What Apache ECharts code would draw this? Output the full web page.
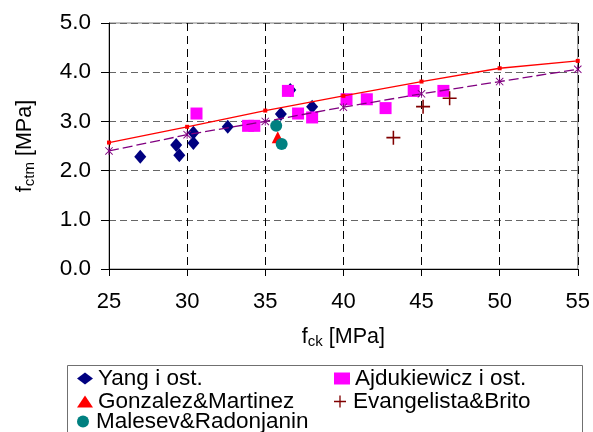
<!DOCTYPE html>
<html>
<head>
<meta charset="utf-8">
<script src="https://cdn.jsdelivr.net/npm/echarts@6/dist/echarts.min.js"></script>
<style>
html,body{margin:0;padding:0;background:#fff;}
#c{width:593px;height:432px;}
</style>
</head>
<body>
<div id="c"></div>
<script>
// Data
var yangX = [27.0, 29.3, 29.5, 30.4, 30.4, 32.6, 36.0, 36.6, 38.0];
var yangY = [2.28, 2.52, 2.31, 2.77, 2.56, 2.89, 3.15, 3.64, 3.30];
var ajdX = [30.6, 33.9, 34.3, 36.45, 37.1, 38.0, 40.2, 41.5, 42.7, 44.5, 46.4];
var ajdY = [3.16, 2.91, 2.91, 3.62, 3.16, 3.08, 3.45, 3.45, 3.27, 3.62, 3.62];
var gonX = [35.8];
var gonY = [2.68];
var evaX = [43.2, 45.1, 46.8];
var evaY = [2.67, 3.30, 3.47];
var malX = [35.7, 36.05];
var malY = [2.91, 2.54];
var modelX = [25, 30, 35, 40, 45, 50, 55];
var redY = [2.57, 2.89, 3.22, 3.52, 3.81, 4.08, 4.23];
var purpleY = [2.40, 2.73, 3.00, 3.29, 3.56, 3.81, 4.06];
var names = ['Yang i ost.', 'Ajdukiewicz i ost.', 'Gonzalez&Martinez', 'Evangelista&Brito', 'Malesev&Radonjanin'];

function pairs(xs, ys) { return xs.map(function (x, i) { return [x, ys[i]]; }); }

var FONT = '"Liberation Sans", Arial, sans-serif';
var plusSym = 'path://M0,4.45H10V5.55H0Z M4.45,0H5.55V10H4.45Z';
var starSym = 'path://M0,0.8L0.8,0L10,9.2L9.2,10Z M9.2,0L10,0.8L0.8,10L0,9.2Z M4.45,0H5.55V10H4.45Z';

function legendItem(name, left, top) {
  return {data: [name], orient: 'horizontal', left: left, top: top,
    itemWidth: 16, itemHeight: 12, itemGap: 0, padding: 0,
    textStyle: {fontSize: 22.5, lineHeight: 22, color: '#000', fontFamily: FONT}};
}

var chart = echarts.init(document.getElementById('c'), null, {renderer: 'canvas'});
var option = {
  backgroundColor: '#fff',
  animation: false,
  textStyle: {fontFamily: FONT},
  grid: {left: 109, top: 23, right: 14, bottom: 163, show: true, borderColor: '#808080', borderWidth: 1},
  xAxis: {
    type: 'value', min: 25, max: 55, interval: 5,
    name: 'f{s|ck} [MPa]', nameLocation: 'middle', nameGap: 56,
    nameTextStyle: {fontSize: 21.5, color: '#000', fontFamily: FONT,
      rich: {s: {fontSize: 15, fontFamily: FONT, color: '#000', padding: [9, 0, 0, 0]}}},
    axisLine: {show: true, lineStyle: {color: '#000', width: 1}},
    axisTick: {show: true, length: 7, lineStyle: {color: '#000'}},
    axisLabel: {fontSize: 22, color: '#000', margin: 22, fontFamily: FONT},
    splitLine: {show: true, lineStyle: {color: '#000', type: [8, 5], width: 1}}
  },
  yAxis: {
    type: 'value', min: 0, max: 5, interval: 1,
    name: 'f{s|ctm} [MPa]', nameLocation: 'middle', nameGap: 72, nameRotate: 90,
    nameTextStyle: {fontSize: 21.5, color: '#000', fontFamily: FONT,
      rich: {s: {fontSize: 15, fontFamily: FONT, color: '#000', padding: [9, 0, 0, 0]}}},
    axisLine: {show: true, lineStyle: {color: '#000', width: 1}},
    axisTick: {show: true, length: 8, lineStyle: {color: '#000'}},
    axisLabel: {fontSize: 22.5, color: '#000', margin: 18, fontFamily: FONT,
      formatter: function (v) { return v.toFixed(1); }},
    splitLine: {show: true, lineStyle: {color: '#666', type: [7, 4], width: 1}}
  },
  legend: [
    legendItem(names[0], 77, 367),
    legendItem(names[2], 77, 390),
    legendItem(names[4], 77, 410),
    legendItem(names[1], 334, 367),
    legendItem(names[3], 334, 390)
  ],
  graphic: [{type: 'rect', left: 65, top: 363, shape: {width: 515, height: 100},
    style: {fill: 'none', stroke: '#707070', lineWidth: 1}, silent: true, z: 0}],
  series: [
    {name: names[0], type: 'scatter', data: pairs(yangX, yangY), symbol: 'diamond', symbolSize: [12, 14],
      itemStyle: {color: '#000080', opacity: 1}, z: 3},
    {name: names[2], type: 'scatter', data: pairs(gonX, gonY), symbol: 'triangle', symbolSize: [12, 12],
      itemStyle: {color: '#FF0000', opacity: 1}, z: 3},
    {name: names[4], type: 'scatter', data: pairs(malX, malY), symbol: 'circle', symbolSize: 12,
      itemStyle: {color: '#008080', opacity: 1}, z: 3},
    {name: names[1], type: 'scatter', data: pairs(ajdX, ajdY), symbol: 'rect', symbolSize: 12,
      itemStyle: {color: '#FF00FF', opacity: 1}, z: 3},
    {name: names[3], type: 'scatter', data: pairs(evaX, evaY), symbol: plusSym, symbolSize: 14,
      itemStyle: {color: '#800000', opacity: 1}, z: 3},
    {name: 'model1', type: 'line', data: pairs(modelX, redY), symbol: 'rect', symbolSize: 4,
      showSymbol: true, lineStyle: {color: '#FF0000', width: 1.3}, itemStyle: {color: '#FF0000'}, z: 4},
    {name: 'model2', type: 'line', data: pairs(modelX, purpleY), symbol: starSym, symbolSize: 8,
      showSymbol: true, lineStyle: {color: '#800080', width: 1.3, type: [10, 4]}, itemStyle: {color: '#800080'}, z: 4}
  ]
};
chart.setOption(option);
</script>
</body>
</html>
